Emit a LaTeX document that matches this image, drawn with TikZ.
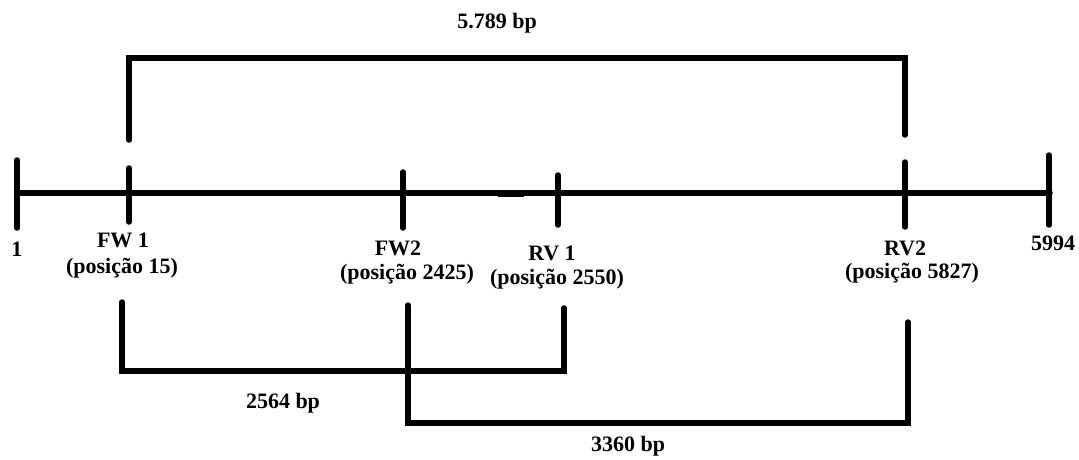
\documentclass[tikz,border=0pt]{standalone}
\usepackage{fontspec}
\setmainfont{Liberation Serif}
\begin{document}
\begin{tikzpicture}[x=1pt,y=-1pt,
  ln/.style={line width=5.5pt,line cap=round,line join=miter},
  lbl/.style={font=\fontsize{22}{25}\selectfont\bfseries,inner sep=0pt,anchor=center}]
\useasboundingbox (0,0) rectangle (1079,459);
% axis
\coordinate (a0) at (17,193);
\coordinate (a1) at (1050,193);
\draw[ln] (a0) -- (a1);
\coordinate (bumpA) at (498,194.5);
\coordinate (bumpB) at (524,194.5);
\draw[line width=5.5pt] (bumpA) -- (bumpB);
% ticks
\coordinate (t1a) at (17,160);   \coordinate (t1b) at (17,228);
\coordinate (t2a) at (129,168);  \coordinate (t2b) at (129,222);
\coordinate (t3a) at (403,172);  \coordinate (t3b) at (403,228);
\coordinate (t4a) at (558,175);  \coordinate (t4b) at (558,225);
\coordinate (t5a) at (905,162);  \coordinate (t5b) at (905,227);
\coordinate (t6a) at (1049,155); \coordinate (t6b) at (1049,225);
\foreach \i in {1,...,6} \draw[ln] (t\i a) -- (t\i b);
% top bracket
\coordinate (u1) at (129,140);
\coordinate (u2) at (129,58);
\coordinate (u3) at (905,58);
\coordinate (u4) at (905,135);
\draw[ln] (u1) -- (u2) -- (u3) -- (u4);
% bottom bracket 1
\coordinate (p1) at (122,302);
\coordinate (p2) at (122,371);
\coordinate (p3) at (564,371);
\coordinate (p4) at (564,308);
\draw[ln] (p1) -- (p2) -- (p3) -- (p4);
% bottom bracket 2
\coordinate (q1) at (408,305);
\coordinate (q2) at (408,423);
\coordinate (q3) at (908,423);
\coordinate (q4) at (908,322);
\draw[ln] (q1) -- (q2) -- (q3) -- (q4);
% labels
\node[lbl] (top) at (497,23) {5.789 bp};
\node[lbl] (n1) at (17,249) {1};
\node[lbl] (fw1) at (123,240) {FW 1};
\node[lbl] (fw1p) at (122,268) {(posição 15)};
\node[lbl] (fw2) at (398,248) {FW2};
\node[lbl] (fw2p) at (407,274) {(posição 2425)};
\node[lbl] (rv1) at (552,253) {RV 1};
\node[lbl] (rv1p) at (557,279) {(posição 2550)};
\node[lbl] (rv2) at (905,248) {RV2};
\node[lbl] (rv2p) at (912,273) {(posição 5827)};
\node[lbl] (end) at (1053,243) {5994};
\node[lbl] (b1) at (283,403) {2564 bp};
\node[lbl] (b2) at (628,446) {3360 bp};
\end{tikzpicture}
\end{document}
